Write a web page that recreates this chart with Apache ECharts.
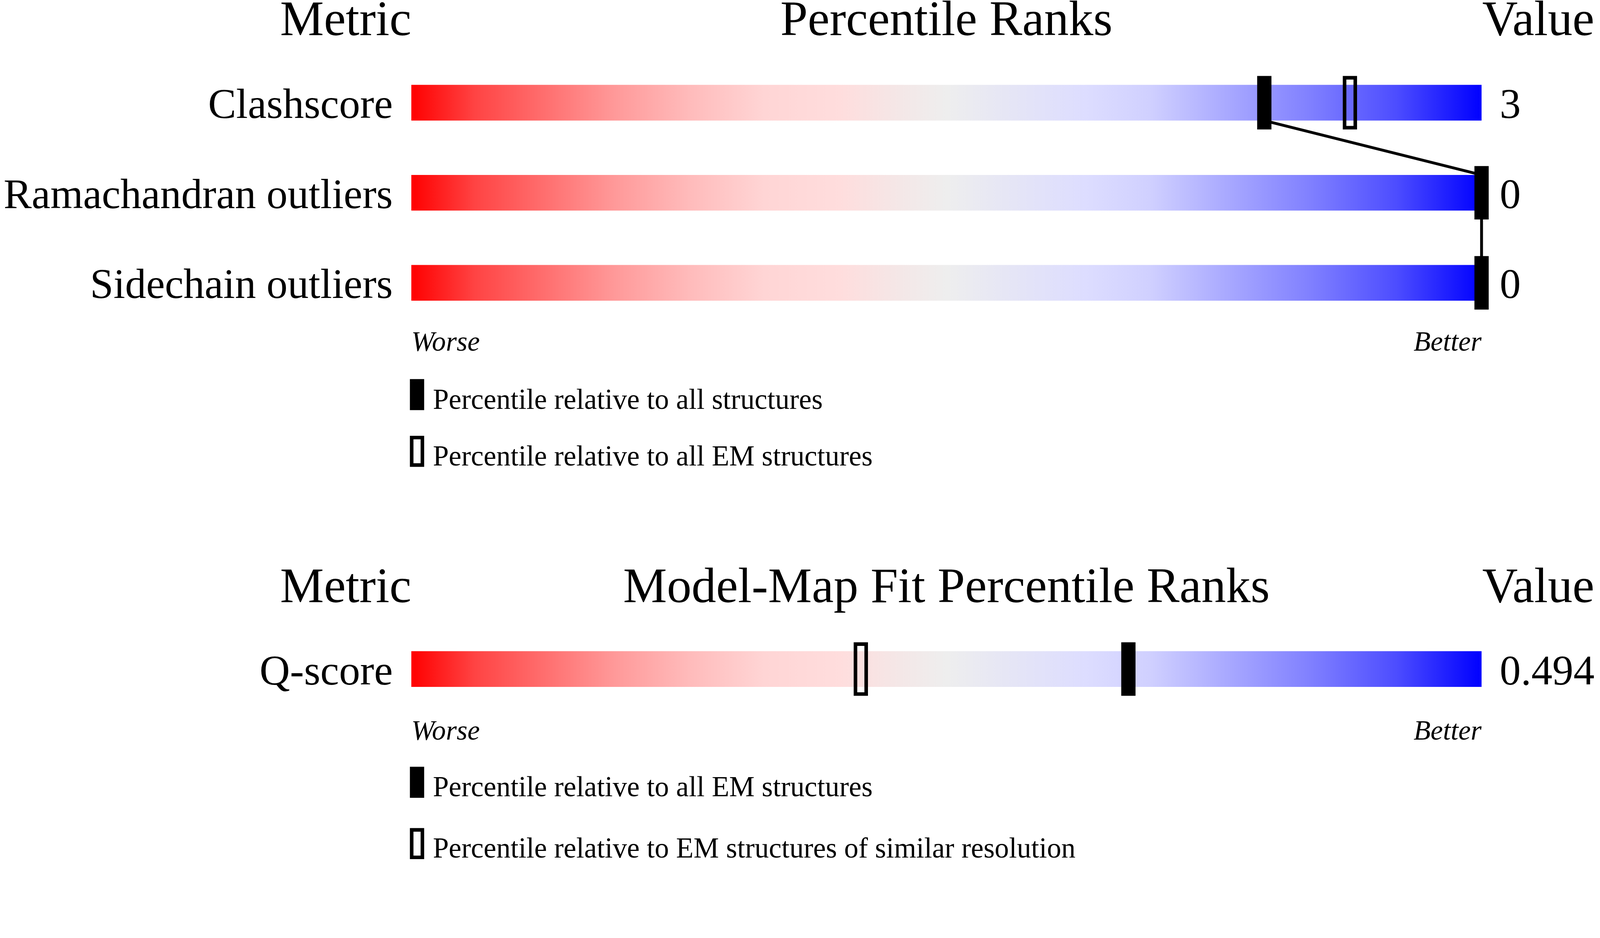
<!DOCTYPE html>
<html>
<head>
<meta charset="utf-8">
<script src="https://cdn.jsdelivr.net/npm/echarts@6/dist/echarts.min.js"></script>
<style>
  html, body { margin: 0; padding: 0; background: #fff; overflow: hidden; }
  #chart { width: 100vw; }
</style>
</head>
<body>
<div id="chart"></div>
<script>
// model quality sliders
const qualityMetrics = ['Clashscore', 'Ramachandran outliers', 'Sidechain outliers'];
const qualityValues = ['3', '0', '0'];
const qualityPctAll = [79.7, 100, 100];
const qualityPctEM = [87.7, null, null];

// model-map fit slider
const fitMetrics = ['Q-score'];
const fitValues = ['0.494'];
const fitPctEM = [67];
const fitPctSimilar = [42];

const scaleLabels = ['Worse', 'Better'];

// layout was measured on a 4485 x 2402 picture; scale it to the real viewport width
const S = window.innerWidth / 4485;
const dom = document.getElementById('chart');
dom.style.height = Math.max(window.innerHeight, Math.round(2402 * S)) + 'px';
const X = v => v * S;
const Y = v => v * S;
const F = v => v * S;

const FONT = 'Liberation Serif';
const BAR_H = Y(100);
const MARK_W = X(40);
const MARK_H = Y(150);
const RIM = F(10);

const FILLED_ICON = 'rect';
const HOLLOW_ICON = 'path://M0,0H40V87H0Z M10,10V77H30V10Z';

const gradientStops = [
    { offset: 0, color: '#ff0000' },
    { offset: 0.06, color: '#ff4444' },
    { offset: 0.13, color: '#ff7272' },
    { offset: 0.19, color: '#ff9999' },
    { offset: 0.26, color: '#ffbbbb' },
    { offset: 0.33, color: '#ffd5d5' },
    { offset: 0.40, color: '#ffdddd' },
    { offset: 0.45, color: '#f5e6e6' },
    { offset: 0.50, color: '#eeeeee' },
    { offset: 0.57, color: '#e4e4f7' },
    { offset: 0.63, color: '#ddddff' },
    { offset: 0.69, color: '#d0d0ff' },
    { offset: 0.76, color: '#aaaaff' },
    { offset: 0.84, color: '#8080ff' },
    { offset: 0.92, color: '#4d4dff' },
    { offset: 1, color: '#0000ff' }
];

function renderBar(params, api) {
    const start = api.coord([0, api.value(0)]);
    const end = api.coord([100, api.value(0)]);
    return {
        type: 'rect',
        shape: { x: start[0], y: start[1] - BAR_H / 2, width: end[0] - start[0], height: BAR_H },
        style: { fill: new echarts.graphic.LinearGradient(0, 0, 1, 0, gradientStops) }
    };
}

function renderFilled(params, api) {
    const p = api.coord([api.value(0), api.value(1)]);
    return {
        type: 'rect',
        shape: { x: p[0] - MARK_W / 2, y: p[1] - MARK_H / 2, width: MARK_W, height: MARK_H },
        style: { fill: '#000' }
    };
}

function renderHollow(params, api) {
    const p = api.coord([api.value(0), api.value(1)]);
    return {
        type: 'rect',
        shape: { x: p[0] - MARK_W / 2 + RIM / 2, y: p[1] - MARK_H / 2 + RIM / 2,
                 width: MARK_W - RIM, height: MARK_H - RIM },
        style: { fill: 'none', stroke: '#000', lineWidth: RIM }
    };
}

// joins the filled markers: bottom of one bar to the top of the next
function renderLink(params, api) {
    const a = api.coord([api.value(0), api.value(1)]);
    const b = api.coord([api.value(2), api.value(3)]);
    return {
        type: 'line',
        shape: { x1: a[0], y1: a[1] + BAR_H / 2, x2: b[0], y2: b[1] - BAR_H / 2 },
        style: { stroke: '#000', lineWidth: F(8) }
    };
}

const barData = qualityMetrics.map((m, i) => [i]);
const allData = qualityPctAll.map((v, i) => [v, i]);
const emData = qualityPctEM.map((v, i) => [v, i]).filter(d => d[0] !== null);
const linkData = qualityPctAll.slice(1).map((v, i) => [qualityPctAll[i], i, v, i + 1]);

const chart = echarts.init(dom);

const headerStyle = { fontFamily: FONT, fontSize: F(138), fill: '#000', verticalAlign: 'middle' };

function scaleAxis(gridIndex, margin) {
    return {
        type: 'value', gridIndex: gridIndex, min: 0, max: 100, interval: 100,
        axisLine: { show: false }, axisTick: { show: false }, splitLine: { show: false },
        axisLabel: {
            margin: Y(margin), fontFamily: FONT, fontSize: F(78), fontStyle: 'italic', color: '#000',
            verticalAlign: 'middle', alignMinLabel: 'left', alignMaxLabel: 'right',
            formatter: v => (v === 0 ? scaleLabels[0] : scaleLabels[1])
        }
    };
}

// the metric names and values sit a little low, on the bar's bottom edge
function catAxis(gridIndex, data, position, margin) {
    return {
        type: 'category', gridIndex: gridIndex, data: data, inverse: true, position: position,
        axisLine: { show: false }, axisTick: { show: false }, splitLine: { show: false },
        axisLabel: {
            margin: X(margin), align: position === 'left' ? 'right' : 'left', verticalAlign: 'middle',
            formatter: v => '{t|' + v + '}',
            rich: { t: { fontFamily: FONT, fontSize: F(118), color: '#000', padding: [F(24), 0, 0, 0] } }
        }
    };
}

function headerText(text, x, y, align) {
    return { type: 'text', x: X(x), y: Y(y), style: Object.assign({ text: text, align: align }, headerStyle) };
}

// text box is taller than the icon, so top/gap are offset to keep the icons in place
function legendBlock(top, gap, names) {
    return {
        orient: 'vertical', left: X(1149), top: Y(top), padding: 0,
        itemWidth: X(40), itemHeight: Y(87), itemGap: Y(gap),
        selectedMode: false,
        formatter: name => '{t|' + name + '}',
        textStyle: {
            rich: { t: { fontFamily: FONT, fontSize: F(80), color: '#000', padding: [F(37), 0, 0, F(19)] } }
        },
        data: [
            { name: names[0], icon: FILLED_ICON, itemStyle: { color: '#000', borderWidth: 0 } },
            { name: names[1], icon: HOLLOW_ICON, itemStyle: { color: '#000', borderWidth: 0 } }
        ]
    };
}

chart.setOption({
    animation: false,
    grid: [
        { left: X(1153), width: X(3000), top: Y(161.75), height: Y(757.5) },
        { left: X(1153), width: X(3000), top: Y(1749.75), height: Y(252.5) }
    ],
    xAxis: [scaleAxis(0, 44), scaleAxis(1, 51)],
    yAxis: [
        catAxis(0, qualityMetrics, 'left', 52),
        catAxis(0, qualityValues, 'right', 51),
        catAxis(1, fitMetrics, 'left', 52),
        catAxis(1, fitValues, 'right', 51)
    ],
    legend: [
        legendBlock(1063, 57, ['Percentile relative to all structures',
                               'Percentile relative to all EM structures']),
        legendBlock(2150, 70, ['Percentile relative to all EM structures ',
                               'Percentile relative to EM structures of similar resolution'])
    ],
    graphic: [
        headerText('Metric', 1153, 62, 'right'),
        headerText('Percentile Ranks', 2653, 62, 'center'),
        headerText('Value', 4155, 62, 'left'),
        headerText('Metric', 1153, 1652, 'right'),
        headerText('Model-Map Fit Percentile Ranks', 2653, 1652, 'center'),
        headerText('Value', 4155, 1652, 'left')
    ],
    series: [
        { type: 'custom', name: 'bars', xAxisIndex: 0, yAxisIndex: 0, renderItem: renderBar, data: barData, encode: { y: 0 }, z: 1 },
        { type: 'custom', name: 'links', xAxisIndex: 0, yAxisIndex: 0, renderItem: renderLink, data: linkData, z: 2 },
        { type: 'custom', name: 'Percentile relative to all structures', xAxisIndex: 0, yAxisIndex: 0,
          renderItem: renderFilled, data: allData, z: 3 },
        { type: 'custom', name: 'Percentile relative to all EM structures', xAxisIndex: 0, yAxisIndex: 0,
          renderItem: renderHollow, data: emData, z: 3 },
        { type: 'custom', name: 'fitBars', xAxisIndex: 1, yAxisIndex: 2, renderItem: renderBar,
          data: fitMetrics.map((m, i) => [i]), encode: { y: 0 }, z: 1 },
        { type: 'custom', name: 'Percentile relative to all EM structures ', xAxisIndex: 1, yAxisIndex: 2,
          renderItem: renderFilled, data: fitPctEM.map((v, i) => [v, i]), z: 3 },
        { type: 'custom', name: 'Percentile relative to EM structures of similar resolution', xAxisIndex: 1, yAxisIndex: 2,
          renderItem: renderHollow, data: fitPctSimilar.map((v, i) => [v, i]), z: 3 }
    ]
});
</script>
</body>
</html>
